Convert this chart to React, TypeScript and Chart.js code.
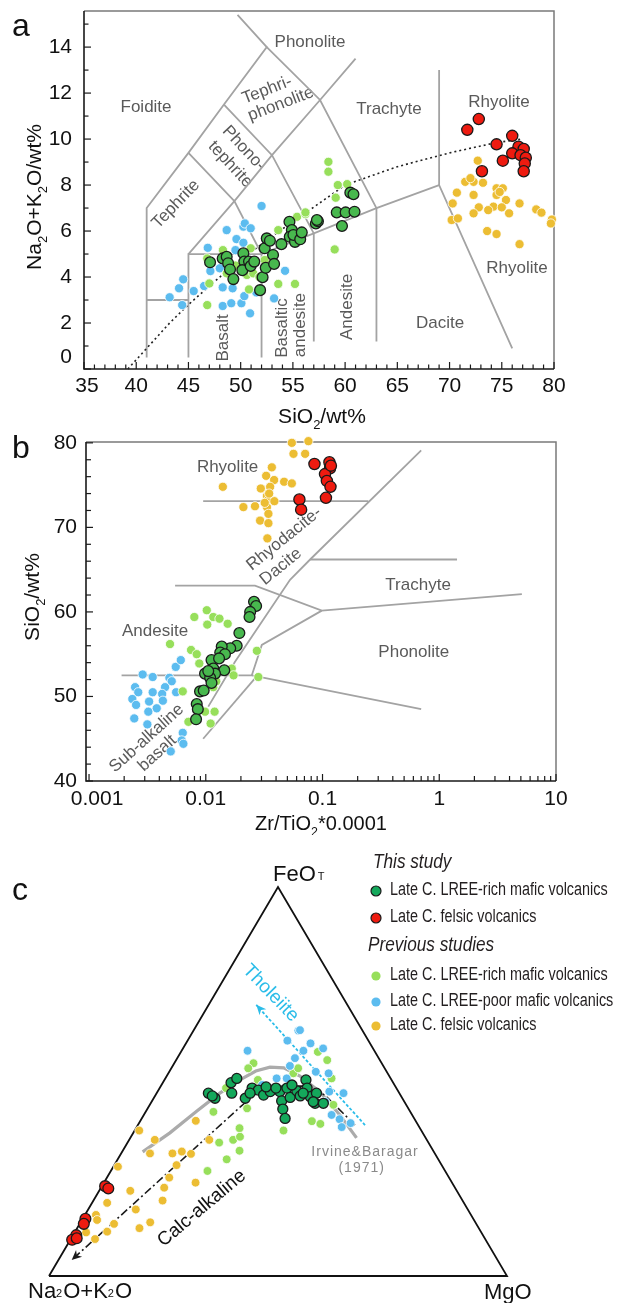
import React, { useEffect, useRef } from "react";
import { Chart, registerables } from "chart.js";
Chart.register(...registerables);

// ================= DATA =================
// Panel a: TAS (SiO2 wt%, Na2O+K2O wt%)
const tasFelsicThis = [[72.8,10.87],[71.7,10.4],[76.0,10.14],[74.5,9.77],[76.6,9.67],[77.1,9.57],[76.0,9.38],[76.8,9.3],[77.3,9.19],[75.1,9.06],[77.2,8.94],[73.1,8.6],[77.1,8.6]];
const tasMaficThis = [[47.07,4.64],[48.28,4.81],[48.66,4.88],[48.8,4.6],[48.98,4.33],[49.3,3.91],[50.26,5.03],[50.35,4.67],[50.16,4.3],[50.8,4.67],[50.96,4.48],[51.3,4.67],[51.86,3.43],[52.1,3.99],[52.3,5.25],[52.4,4.4],[52.5,5.68],[52.8,5.58],[53.1,4.96],[53.2,4.57],[53.9,5.43],[54.67,6.4],[54.9,6.04],[54.7,5.75],[55.2,5.53],[55.05,5.83],[55.7,5.64],[55.85,5.94],[57.2,6.33],[57.4,6.43],[60.5,7.67],[60.8,7.6],[59.2,6.81],[60.05,6.81],[60.9,6.84],[57.3,6.48],[59.7,6.22]];
const tasFelsicPrev = [[72.7,9.06],[71.5,8.14],[72.3,8.14],[73.2,8.1],[70.7,7.67],[72.3,7.57],[74.5,7.86],[75.1,7.86],[74.5,7.57],[75.4,7.35],[76.7,7.2],[70.3,7.2],[72.8,7.03],[74.2,7.06],[75.0,7.03],[73.7,6.91],[72.3,6.77],[75.7,6.77],[78.3,6.94],[78.8,6.8],[79.8,6.5],[70.2,6.48],[70.8,6.55],[79.7,6.33],[73.6,6.0],[74.5,5.87],[76.7,5.43],[72.0,8.3],[74.8,7.7]];
const tasMaficPrevRich = [[46.8,2.78],[47.0,3.72],[46.8,4.81],[48.3,5.17],[48.67,4.16],[50.6,4.09],[50.8,3.46],[50.96,5.25],[51.2,4.16],[52.3,4.74],[53.6,6.04],[53.6,3.7],[55.2,3.7],[55.4,6.62],[56.2,6.74],[58.4,9.01],[58.4,8.58],[59.3,8.0],[60.2,8.04],[59.1,7.45],[56.2,6.81],[59.0,5.2],[49.5,4.5],[51.8,4.0]];
const tasMaficPrevPoor = [[43.2,3.12],[44.1,3.51],[44.5,3.9],[44.4,2.78],[45.5,3.39],[46.5,3.61],[46.85,5.27],[47.1,4.26],[48.0,4.38],[48.28,2.74],[48.28,3.55],[48.66,6.04],[49.23,3.51],[49.1,2.86],[49.6,5.65],[49.5,5.17],[50.26,6.19],[50.4,6.33],[50.96,6.12],[50.26,5.49],[50.07,2.86],[50.35,3.17],[50.9,2.42],[52.0,7.09],[51.5,3.33],[53.2,3.07],[54.25,4.27]];
const tasFieldLines = [
  [[41,0.5],[41,7],[45,9.4],[48.4,11.5],[52.5,14],[49.7,15.4]],
  [[41,3],[45,3]],
  [[45,0.5],[45,5],[52,5],[52,0.5]],
  [[45,5],[49.4,7.3],[52,5]],
  [[45,9.4],[49.4,7.3],[53,9.3],[57.6,11.7],[61,13.5]],
  [[48.4,11.5],[53,9.3],[57,5.9]],
  [[52.5,14],[57.6,11.7],[63,7]],
  [[52,5],[57,5.9],[63,7],[69,8]],
  [[57,5.9],[57,1.2]],
  [[63,7],[63,1.2]],
  [[69,13],[69,8],[76,0.9]],
];
const tasAlkalineLine = [[39.2,0],[40,0.4],[43.2,2],[45,2.8],[48,4],[50,4.75],[53.7,6],[55,6.4],[60,8],[65,8.8],[70,9.4],[74.5,9.85],[77,10.0]];
const tasXTicks = [35,40,45,50,55,60,65,70,75,80];
const tasYTicks = [0,2,4,6,8,10,12,14];

// Panel b: Zr/TiO2*0.0001 vs SiO2
const wfFelsicThis = [[0.0853,77.5],[0.0634,73.3],[0.0656,72.1],[0.1146,77.7],[0.116,77.0],[0.105,76.3],[0.109,75.5],[0.117,74.8],[0.107,73.5],[0.118,77.3]];
const wfMaficThis = [[0.0259,61.2],[0.027,60.7],[0.024,60.0],[0.0237,59.4],[0.0194,57.5],[0.0184,56.0],[0.0162,55.7],[0.0137,55.9],[0.0133,55.2],[0.0146,55.0],[0.0112,54.3],[0.0116,53.3],[0.0144,53.1],[0.00986,52.7],[0.012,52.7],[0.0109,52.2],[0.0112,51.6],[0.00893,50.6],[0.0096,50.7],[0.00837,49.1],[0.00855,48.5],[0.00826,47.3],[0.0105,53.0],[0.013,54.5]];
const wfFelsicPrev = [[0.0546,80.0],[0.0757,80.2],[0.0564,78.7],[0.071,78.7],[0.0368,77.1],[0.014,74.8],[0.0329,76.1],[0.0385,75.6],[0.0469,75.4],[0.0546,75.2],[0.0296,74.6],[0.0356,74.8],[0.0334,73.7],[0.034,73.2],[0.0387,73.1],[0.021,72.4],[0.0264,72.5],[0.0334,72.4],[0.0344,71.6],[0.0292,70.8],[0.0344,70.5],[0.0337,68.7],[0.032,72.9],[0.0349,74.0]];
const wfMaficPrevRich = [[0.0102,60.2],[0.00798,59.4],[0.0103,58.5],[0.0116,59.4],[0.0131,59.2],[0.0154,58.6],[0.00494,56.2],[0.00748,55.5],[0.00837,55.0],[0.0088,53.9],[0.0167,53.3],[0.0173,52.5],[0.00635,50.6],[0.00986,48.2],[0.0119,48.2],[0.0071,47.0],[0.011,46.8],[0.0274,55.4],[0.0282,52.3],[0.0116,51.1],[0.0123,51.8]];
const wfMaficPrevPoor = [[0.00288,52.6],[0.00351,52.3],[0.00488,52.2],[0.00511,51.8],[0.00553,53.5],[0.00611,54.3],[0.00248,51.1],[0.00448,51.1],[0.00264,50.5],[0.00351,50.5],[0.00557,50.5],[0.00423,50.3],[0.00235,49.7],[0.00327,49.4],[0.00253,49.0],[0.00429,49.5],[0.0038,48.6],[0.00322,48.2],[0.00244,47.4],[0.00316,46.7],[0.00635,45.7],[0.00622,44.8],[0.00643,44.4],[0.00501,43.5]];
const wfFieldLines = [
  [[0.0095,73.1],[0.247,73.1]],
  [[0.70,79.1],[0.0783,66.2],[0.0527,63.8],[0.0178,54.1],[0.0105,48.8]],
  [[0.0783,66.2],[1.42,66.2]],
  [[0.00546,63.1],[0.0264,63.1],[0.0986,60.15],[5.1,62.1]],
  [[0.0986,60.15],[0.0302,56.1],[0.0248,52.5]],
  [[0.0019,52.5],[0.0248,52.5],[0.70,48.5]],
  [[0.0274,52.4],[0.0095,45.0]],
];
const wfXTicks = [0.001,0.01,0.1,1,10];
const wfXTickLabels = ["0.001","0.01","0.1","1","10"];
const wfYTicks = [40,50,60,70,80];

// Panel c: AFM ternary, [Na2O+K2O, FeOT, MgO] %
const afmFelsicThis = [[76.2,23.1,0.7],[75.8,22.5,1.7],[84.7,14.7,0.6],[85.7,13.4,0.9],[88.8,10.5,0.7],[90.3,9.3,0.4],[89.1,9.7,1.2]];
const afmMaficThis = [[41.7,47.0,11.3],[40.9,45.7,13.4],[35.4,49.7,14.9],[36.6,47.0,16.4],[33.6,50.8,15.6],[34.3,45.7,20.0],[31.5,48.3,20.2],[30.4,47.8,21.8],[29.9,46.5,23.6],[28.0,47.4,24.6],[25.9,47.4,26.7],[26.7,45.0,28.3],[27.5,42.9,29.6],[28.2,40.5,31.3],[23.9,48.3,27.8],[24.4,45.9,29.7],[22.1,47.6,30.3],[22.0,46.3,31.7],[18.7,50.4,30.9],[19.5,48.3,32.2],[19.9,46.1,34.0],[19.7,44.4,35.9],[21.0,47.0,32.0],[18.1,47.0,34.9],[19.9,44.8,35.3],[17.9,44.4,37.7],[41.2,46.3,12.5],[32.6,47.0,20.4],[28.3,48.6,23.1],[26.3,48.3,25.4],[22.4,49.1,28.5]];
const afmFelsicPrev = [[61.6,37.4,1.0],[59.4,35.0,5.6],[62.2,31.5,6.3],[57.3,31.5,11.2],[55.0,32.0,13.0],[53.3,31.4,15.3],[48.0,39.9,12.1],[47.5,35.0,17.5],[70.9,28.1,1.0],[57.9,28.5,13.6],[61.1,25.3,13.6],[71.3,21.9,6.8],[63.5,22.7,13.8],[56.0,24.0,20.0],[77.9,18.8,3.3],[72.5,17.1,10.4],[65.5,19.4,15.1],[81.9,15.7,2.4],[79.1,13.4,7.5],[74.1,12.3,13.6],[71.0,13.8,15.2],[81.6,11.4,7.0],[86.3,11.2,2.5],[85.2,9.5,5.3],[82.3,14.4,3.3]];
const afmMaficPrevRich = [[28.0,54.7,17.3],[29.8,53.4,16.8],[43.0,42.2,14.8],[35.2,43.1,21.7],[39.4,38.0,22.6],[42.3,35.0,22.7],[40.4,35.8,23.8],[45.7,34.3,20.0],[42.3,32.2,25.5],[46.2,30.0,23.8],[51.9,27.0,21.1],[30.1,37.4,32.5],[22.7,39.8,37.5],[20.6,52.1,27.3],[18.9,53.4,27.7],[21.2,39.1,39.7],[12.9,50.8,36.3],[15.9,44.0,40.1],[12.5,57.6,29.9],[11.5,55.5,33.0],[29.2,50.4,20.4],[37.2,48.3,14.5]];
const afmMaficPrevPoor = [[14.0,63.1,22.9],[17.7,60.5,21.8],[13.0,59.8,27.2],[15.5,57.9,26.6],[27.7,57.9,14.4],[18.3,56.0,25.7],[20.4,54.0,25.6],[24.9,50.8,24.3],[22.7,50.8,26.5],[10.9,58.5,30.6],[15.5,52.5,32.0],[12.9,52.1,35.0],[15.1,47.4,37.5],[12.2,47.0,40.8],[17.6,41.4,41.0],[16.4,40.3,43.3],[17.0,38.4,44.9],[14.5,39.3,46.2],[17.3,44.8,37.9],[13.6,63.2,23.2],[28.9,49.1,22.0]];
const afmTriangle = [[100,0,0],[0,100,0],[0,0,100],[100,0,0]];
const afmIrvineCurve = [[63.6,31.9,4.5],[55.2,36.8,8.0],[46.5,42.4,11.1],[39.2,47.0,13.8],[33.1,50.4,16.5],[28.5,52.7,18.8],[24.9,53.7,21.4],[22.0,53.5,24.5],[19.5,51.4,29.1],[17.2,47.3,35.5],[15.8,41.4,42.8],[15.1,35.5,49.4]];
const afmCalcAlkTrend = [[13.8,38.8,47.4],[16.5,46.5,37.0],[19.7,48.8,31.5],[25.2,48.8,26.0],[30.7,47.3,22.0],[36.6,43.4,20.0],[93.0,4.1,2.9]];
const afmTholeiiteTrend = [[11.6,38.8,49.6],[19.9,69.7,10.4]];

const legendThis = ["Late C. LREE-rich mafic volcanics", "Late C. felsic volcanics"];
const legendPrev = ["Late C. LREE-rich mafic volcanics", "Late C. LREE-poor mafic volcanics", "Late C. felsic volcanics"];

// ================= STYLE =================
const FONT = '"Liberation Sans", Arial, Helvetica, sans-serif';
const fnt = (size: number, style = "") => `${style} ${size}px ${FONT}`.trim();
const COL = {
  maficThis: "#48b84e",
  maficThisC: "#14a85b",
  felsicThis: "#ee1b10",
  rich: "#97df5b",
  poor: "#5cbcef",
  felsic: "#ecbd33",
  field: "#a3a3a3",
  label: "#5a5a5a",
};

const toPts = (arr: number[][]) => arr.map(([x, y]) => ({ x, y }));
const tern = (arr: number[][]) =>
  arr.map((p) => {
    const s = p[0] + p[1] + p[2];
    return { x: (p[2] + p[1] / 2) / s, y: p[1] / s };
  });

function pointDs(data: any[], color: string, r: number, dark: boolean) {
  return {
    data,
    showLine: false,
    pointRadius: r,
    pointBackgroundColor: color,
    pointBorderColor: dark ? "#1a1a1a" : "#ffffff",
    pointBorderWidth: dark ? 1.3 : 0.8,
    backgroundColor: color,
    borderColor: dark ? "#1a1a1a" : "#ffffff",
    clip: false,
  };
}
function lineDs(data: any[], color: string, width: number, dash: number[] = []) {
  return {
    data,
    showLine: true,
    pointRadius: 0,
    borderColor: color,
    borderWidth: width,
    borderDash: dash,
    fill: false,
    tension: 0,
    clip: false,
  };
}

// ================= DRAW HELPERS =================
function rotText(ctx: any, text: string, x: number, y: number, deg: number, font: string, color: string, align = "center") {
  ctx.save();
  ctx.translate(x, y);
  ctx.rotate((deg * Math.PI) / 180);
  ctx.font = font;
  ctx.fillStyle = color;
  ctx.textAlign = align;
  ctx.textBaseline = "middle";
  ctx.fillText(text, 0, 0);
  ctx.restore();
}

// segments: [text, isSub]
function richText(ctx: any, segs: [string, boolean][], x: number, y: number, size: number, deg = 0, color = "#111", subScale = 0.62, subShift = 0.3, align = "center") {
  ctx.save();
  ctx.translate(x, y);
  ctx.rotate((deg * Math.PI) / 180);
  const widths: number[] = [];
  let total = 0;
  for (const [t, sub] of segs) {
    ctx.font = fnt(sub ? size * subScale : size);
    const w = ctx.measureText(t).width;
    widths.push(w);
    total += w;
  }
  let cx = align === "center" ? -total / 2 : 0;
  ctx.fillStyle = color;
  ctx.textAlign = "left";
  ctx.textBaseline = "alphabetic";
  segs.forEach(([t, sub], i) => {
    ctx.font = fnt(sub ? size * subScale : size);
    ctx.fillText(t, cx, size * 0.36 + (sub ? size * subShift : 0));
    cx += widths[i];
  });
  ctx.restore();
}

function drawFrame(chart: any, cfg: any) {
  const { ctx, chartArea: a } = chart;
  const xs = chart.scales.x, ys = chart.scales.y;
  ctx.save();
  ctx.lineWidth = 1.5;
  ctx.strokeStyle = "#7a7a7a";
  ctx.beginPath();
  ctx.moveTo(a.left, a.top);
  ctx.lineTo(a.right, a.top);
  ctx.lineTo(a.right, a.bottom);
  ctx.stroke();
  ctx.strokeStyle = "#1a1a1a";
  ctx.lineWidth = 1.6;
  ctx.beginPath();
  ctx.moveTo(a.left, a.top);
  ctx.lineTo(a.left, a.bottom);
  ctx.lineTo(a.right, a.bottom);
  ctx.stroke();
  ctx.lineWidth = 1.2;
  const seg = (x1: number, y1: number, x2: number, y2: number) => {
    ctx.beginPath();
    ctx.moveTo(x1, y1);
    ctx.lineTo(x2, y2);
    ctx.stroke();
  };
  for (const v of cfg.xMinor) { const p = xs.getPixelForValue(v); seg(p, a.bottom, p, a.bottom - cfg.minorLen); }
  for (const v of cfg.xMajor) { const p = xs.getPixelForValue(v); seg(p, a.bottom, p, a.bottom - cfg.majorLen); }
  for (const v of cfg.yMinor) { const p = ys.getPixelForValue(v); seg(a.left, p, a.left + cfg.minorLen, p); }
  for (const v of cfg.yMajor) { const p = ys.getPixelForValue(v); seg(a.left, p, a.left + cfg.majorLen, p); }
  ctx.restore();
}

// ================= PANEL A =================
function makeTas(): any {
  const xMinor: number[] = [];
  for (let v = 35; v <= 80; v++) if (v % 5) xMinor.push(v);
  const yMinor: number[] = [];
  for (let v = 1; v <= 15; v += 2) yMinor.push(v);
  const deco = {
    id: "tasDeco",
    beforeDatasetsDraw(chart: any) {
      const { ctx } = chart;
      const xs = chart.scales.x, ys = chart.scales.y;
      drawFrame(chart, { xMajor: tasXTicks, xMinor, yMajor: tasYTicks, yMinor, majorLen: 7, minorLen: 4.5 });
      const L = (t: string, sx: number, k: number, deg = 0) => rotText(ctx, t, xs.getPixelForValue(sx), ys.getPixelForValue(k), deg, fnt(17), COL.label);
      L("Phonolite", 56.64, 14.22);
      L("Foidite", 40.94, 11.39);
      L("Tephri-", 52.52, 12.13, -21);
      L("phonolite", 53.85, 11.52, -21);
      L("Phono-", 50.3, 9.6, 47);
      L("tephrite", 49.0, 8.9, 47);
      L("Tephrite", 43.8, 7.17, -46);
      L("Trachyte", 64.2, 11.3);
      L("Rhyolite", 74.73, 11.6);
      L("Rhyolite", 76.46, 4.39);
      L("Dacite", 69.09, 2.0);
      L("Andesite", 60.18, 2.7, -90);
      L("Basaltic", 53.96, 1.78, -90);
      L("andesite", 55.68, 1.91, -90);
      L("Basalt", 48.31, 1.35, -90);
    },
    afterDraw(chart: any) {
      const { ctx } = chart;
      const xs = chart.scales.x, ys = chart.scales.y;
      ctx.save();
      ctx.fillStyle = "#111";
      ctx.font = fnt(21);
      ctx.textAlign = "center";
      ctx.textBaseline = "middle";
      tasXTicks.forEach((v) => ctx.fillText(String(v), xs.getPixelForValue(v) + (v === 35 ? 3 : 0), 386));
      ctx.textAlign = "right";
      tasYTicks.forEach((v) => ctx.fillText(String(v), 72, ys.getPixelForValue(v) - (v === 0 ? 12 : 0)));
      ctx.font = fnt(32);
      ctx.textAlign = "left";
      ctx.textBaseline = "alphabetic";
      ctx.fillText("a", 12, 36);
      ctx.restore();
      richText(ctx, [["SiO", false], ["2", true], ["/wt%", false]], 322, 415, 21);
      richText(ctx, [["Na", false], ["2", true], ["O+K", false], ["2", true], ["O/wt%", false]], 33, 197, 21, -90);
    },
  };
  return {
    type: "scatter",
    data: {
      datasets: [
        pointDs(toPts(tasFelsicThis), COL.felsicThis, 5.6, true),
        pointDs(toPts(tasMaficThis), COL.maficThis, 5.4, true),
        pointDs(toPts(tasFelsicPrev), COL.felsic, 4.6, false),
        pointDs(toPts(tasMaficPrevRich), COL.rich, 4.6, false),
        pointDs(toPts(tasMaficPrevPoor), COL.poor, 4.6, false),
        lineDs(toPts(tasAlkalineLine), "#222", 1.6, [2, 3]),
        ...tasFieldLines.map((l) => lineDs(toPts(l), COL.field, 1.8)),
      ],
    },
    options: {
      responsive: false,
      animation: false,
      events: [],
      layout: { padding: { left: 84, right: 74, top: 11, bottom: 66 } },
      plugins: { legend: { display: false }, tooltip: { enabled: false } },
      scales: {
        x: { type: "linear", min: 35, max: 80, display: false },
        y: { type: "linear", min: 0, max: 15.57, display: false },
      },
    },
    plugins: [deco],
  };
}

// ================= PANEL B =================
function makeWf(): any {
  const xMinor: number[] = [];
  for (let d = -3; d <= 0; d++) for (let k = 2; k <= 9; k++) xMinor.push(k * Math.pow(10, d));
  const yMinor: number[] = [];
  for (let v = 42; v <= 80; v += 2) if (v % 10) yMinor.push(v);
  const deco = {
    id: "wfDeco",
    beforeDatasetsDraw(chart: any) {
      const { ctx } = chart;
      const xs = chart.scales.x, ys = chart.scales.y;
      drawFrame(chart, { xMajor: wfXTicks, xMinor, yMajor: wfYTicks, yMinor, majorLen: 7, minorLen: 5 });
      const L = (t: string, zx: number, s: number, deg = 0) => rotText(ctx, t, xs.getPixelForValue(zx), ys.getPixelForValue(s), deg, fnt(17), COL.label);
      L("Rhyolite", 0.01538, 77.16);
      L("Rhyodacite-", 0.0469, 68.64, -39);
      L("Dacite", 0.044, 65.36, -39);
      L("Trachyte", 0.659, 63.2);
      L("Phonolite", 0.605, 55.18);
      L("Andesite", 0.00368, 57.75);
      L("Sub-alkaline", 0.00312, 45.05, -42);
      L("basalt", 0.00385, 43.28, -42);
    },
    afterDraw(chart: any) {
      const { ctx } = chart;
      const xs = chart.scales.x, ys = chart.scales.y;
      ctx.save();
      ctx.fillStyle = "#111";
      ctx.font = fnt(21);
      ctx.textAlign = "center";
      ctx.textBaseline = "middle";
      wfXTicks.forEach((v, i) => ctx.fillText(wfXTickLabels[i], xs.getPixelForValue(v) + (i === 0 ? 8 : 0), 364));
      ctx.textAlign = "right";
      wfYTicks.forEach((v) => ctx.fillText(String(v), 77, ys.getPixelForValue(v)));
      ctx.font = fnt(32);
      ctx.textAlign = "left";
      ctx.textBaseline = "alphabetic";
      ctx.fillText("b", 12, 23);
      ctx.restore();
      richText(ctx, [["Zr/TiO", false], ["2", true], ["*0.0001", false]], 321, 388, 20);
      richText(ctx, [["SiO", false], ["2", true], ["/wt%", false]], 31, 162, 21, -90);
    },
  };
  return {
    type: "scatter",
    data: {
      datasets: [
        pointDs(toPts(wfFelsicThis), COL.felsicThis, 5.6, true),
        pointDs(toPts(wfMaficThis), COL.maficThis, 5.4, true),
        pointDs(toPts(wfFelsicPrev), COL.felsic, 4.6, false),
        pointDs(toPts(wfMaficPrevRich), COL.rich, 4.6, false),
        pointDs(toPts(wfMaficPrevPoor), COL.poor, 4.6, false),
        ...wfFieldLines.map((l) => lineDs(toPts(l), COL.field, 1.8)),
      ],
    },
    options: {
      responsive: false,
      animation: false,
      events: [],
      layout: { padding: { left: 86, right: 72, top: 7, bottom: 54 } },
      plugins: { legend: { display: false }, tooltip: { enabled: false } },
      scales: {
        x: { type: "logarithmic", min: 0.000942, max: 10, display: false },
        y: { type: "linear", min: 40, max: 80.1, display: false },
      },
    },
    plugins: [deco],
  };
}

// ================= PANEL C =================
function makeAfm(): any {
  const nTh = afmTholeiiteTrend.length, nCa = afmCalcAlkTrend.length;
  const deco = {
    id: "afmDeco",
    afterDatasetsDraw(chart: any) {
      const { ctx } = chart;
      const xs = chart.scales.x, ys = chart.scales.y;
      const arrow = (dsIndex: number, color: string) => {
        const pts = chart.getDatasetMeta(dsIndex).data;
        const p1 = pts[pts.length - 2], p2 = pts[pts.length - 1];
        const ang = Math.atan2(p2.y - p1.y, p2.x - p1.x);
        ctx.save();
        ctx.translate(p2.x, p2.y);
        ctx.rotate(ang);
        ctx.fillStyle = color;
        ctx.beginPath();
        ctx.moveTo(0, 0);
        ctx.lineTo(-10, -4.5);
        ctx.lineTo(-7, 0);
        ctx.lineTo(-10, 4.5);
        ctx.closePath();
        ctx.fill();
        ctx.restore();
      };
      const ds = chart.data.datasets;
      ds.forEach((d: any, i: number) => {
        if (d.arrowColor) arrow(i, d.arrowColor);
      });
      const P = (x: number, y: number) => [xs.getPixelForValue(x), ys.getPixelForValue(y)];
      let [x, y] = P(0.484, 0.727);
      rotText(ctx, "Tholeiite", x, y, 46, fnt(19), "#2bbde9");
      [x, y] = P(0.3334, 0.174);
      rotText(ctx, "Calc-alkaline", x, y, -40, fnt(19), "#111");
      ctx.save();
      ctx.letterSpacing = "1px";
      [x, y] = P(0.69, 0.3195);
      rotText(ctx, "Irvine&Baragar", x, y, 0, fnt(14), "#8a8a8a");
      [x, y] = P(0.6827, 0.2769);
      rotText(ctx, "(1971)", x, y, 0, fnt(14), "#8a8a8a");
      ctx.restore();

      // vertex labels
      ctx.save();
      ctx.fillStyle = "#111";
      ctx.textAlign = "left";
      ctx.textBaseline = "alphabetic";
      ctx.font = fnt(22);
      ctx.fillText("FeO", 273, 46);
      const wFe = ctx.measureText("FeO").width;
      ctx.font = fnt(11);
      ctx.fillText("T", 273 + wFe + 2, 45);
      ctx.font = fnt(22);
      ctx.fillText("MgO", 484, 464);
      let cx = 28;
      const parts: [string, boolean][] = [["Na", false], ["2", true], ["O+K", false], ["2", true], ["O", false]];
      for (const [t, sub] of parts) {
        ctx.font = fnt(sub ? 11 : 22);
        ctx.fillText(t, cx, sub ? 462 : 463);
        cx += ctx.measureText(t).width + (sub ? 1 : 0);
      }
      ctx.font = fnt(32);
      ctx.fillText("c", 12, 65);

      // legend
      const top = 835;
      ctx.fillStyle = "#231f20";
      ctx.textBaseline = "middle";
      const squeeze = (t: string, xx: number, yy: number, font: string, k: number) => {
        ctx.font = font;
        const w = ctx.measureText(t).width;
        ctx.fillText(t, xx, yy, w * k);
      };
      squeeze("This study", 373, 862 - top, fnt(20, "italic"), 0.86);
      squeeze("Previous studies", 368, 945 - top, fnt(20, "italic"), 0.86);
      const items: [string, string, boolean, number][] = [
        [legendThis[0], COL.maficThisC, true, 890],
        [legendThis[1], COL.felsicThis, true, 917],
        [legendPrev[0], COL.rich, false, 975],
        [legendPrev[1], COL.poor, false, 1001],
        [legendPrev[2], COL.felsic, false, 1025],
      ];
      for (const [t, c, dark, yy] of items) {
        ctx.beginPath();
        ctx.arc(376, yy - top + 1, dark ? 5 : 4.6, 0, Math.PI * 2);
        ctx.fillStyle = c;
        ctx.fill();
        if (dark) {
          ctx.lineWidth = 1.2;
          ctx.strokeStyle = "#1a1a1a";
          ctx.stroke();
        }
        ctx.fillStyle = "#231f20";
        squeeze(t, 390, yy - top, fnt(18), 0.8);
      }
      ctx.restore();
    },
  };
  return {
    type: "scatter",
    data: {
      datasets: [
        pointDs(tern(afmFelsicThis), COL.felsicThis, 5.4, true),
        pointDs(tern(afmMaficThis), COL.maficThisC, 5.0, true),
        pointDs(tern(afmMaficPrevPoor), COL.poor, 4.4, false),
        pointDs(tern(afmMaficPrevRich), COL.rich, 4.4, false),
        pointDs(tern(afmFelsicPrev), COL.felsic, 4.4, false),
        { ...lineDs(tern(afmCalcAlkTrend), "#1a1a1a", 1.6, [8, 3, 2, 3]), arrowColor: "#1a1a1a" },
        { ...lineDs(tern(afmTholeiiteTrend), "#2bbde9", 1.8, [3, 2]), arrowColor: "#2bbde9" },
        lineDs(tern(afmIrvineCurve), "#ababab", 3.2),
        lineDs(tern(afmTriangle), "#111", 1.8),
      ],
    },
    options: {
      responsive: false,
      animation: false,
      events: [],
      layout: { padding: { left: 49, right: 121, top: 52, bottom: 27 } },
      plugins: { legend: { display: false }, tooltip: { enabled: false } },
      scales: {
        x: { type: "linear", min: 0, max: 1, display: false },
        y: { type: "linear", min: 0, max: 1, display: false },
      },
    },
    plugins: [deco],
  };
}

export default function App() {
  const aRef = useRef<HTMLCanvasElement>(null);
  const bRef = useRef<HTMLCanvasElement>(null);
  const cRef = useRef<HTMLCanvasElement>(null);
  useEffect(() => {
    const charts = [
      new Chart(aRef.current as any, makeTas()),
      new Chart(bRef.current as any, makeWf()),
      new Chart(cRef.current as any, makeAfm()),
    ];
    return () => charts.forEach((c) => c.destroy());
  }, []);
  const cs: any = { position: "absolute", left: 0 };
  return (
    <div style={{ position: "absolute", left: 0, top: 0, width: 628, height: 1303, background: "#fff", overflow: "hidden" }}>
      <canvas ref={aRef} width={628} height={435} style={{ ...cs, top: 0 }} />
      <canvas ref={bRef} width={628} height={400} style={{ ...cs, top: 435 }} />
      <canvas ref={cRef} width={628} height={468} style={{ ...cs, top: 835 }} />
    </div>
  );
}
